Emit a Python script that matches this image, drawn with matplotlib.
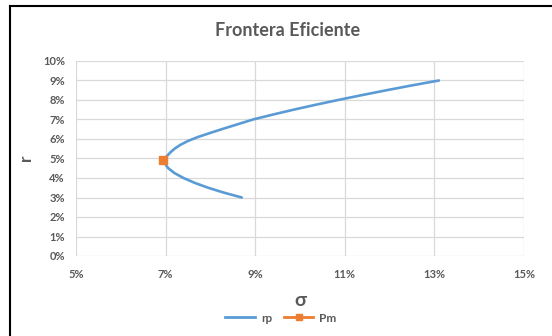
import matplotlib
matplotlib.use("Agg")
import matplotlib.pyplot as plt
from matplotlib.lines import Line2D
from matplotlib.ticker import FuncFormatter

# Efficient frontier points: portfolio risk (sigma) vs expected return (r)
rp_sigma = [0.0870, 0.0830, 0.0795, 0.0765, 0.0740, 0.0720, 0.0706, 0.0698,
            0.0696, 0.0702, 0.0710, 0.0720, 0.0733, 0.0750, 0.0772, 0.0798,
            0.0825, 0.0860, 0.0895, 0.0939, 0.0985, 0.1034, 0.1085, 0.1138,
            0.1193, 0.1250, 0.1310]
rp_r = [0.0300, 0.0325, 0.0350, 0.0375, 0.0400, 0.0425, 0.0450, 0.0475,
        0.0495, 0.0510, 0.0530, 0.0550, 0.0570, 0.0590, 0.0610, 0.0630,
        0.0650, 0.0675, 0.0700, 0.0725, 0.0750, 0.0775, 0.0800, 0.0825,
        0.0850, 0.0875, 0.0900]

# Minimum-variance portfolio
pm_sigma = [0.0695]
pm_r = [0.0492]

x_ticks = [0.05, 0.07, 0.09, 0.11, 0.13, 0.15]
y_ticks = [0.00, 0.01, 0.02, 0.03, 0.04, 0.05, 0.06, 0.07, 0.08, 0.09, 0.10]

BLUE = "#5b9bd5"
ORANGE = "#ed7d31"
GRAY = "#595959"
GRID = "#d9d9d9"
FONT = ["Lato", "DejaVu Sans"]

fig = plt.figure(figsize=(5.52, 3.36), dpi=100)
ax = fig.add_axes([76 / 552, 1 - 256 / 336, 448 / 552, 195 / 336])

ax.plot(rp_sigma, rp_r, color=BLUE, lw=1.9, solid_joinstyle="round",
        solid_capstyle="round", zorder=3)
ax.plot(pm_sigma, pm_r, color=ORANGE, marker="s", ms=5.5, lw=0, zorder=4)

ax.set_xlim(0.05, 0.15)
ax.set_ylim(0.0, 0.10)
ax.set_xticks(x_ticks)
ax.set_yticks(y_ticks)
pct = FuncFormatter(lambda v, _: f"{v * 100:.0f}%")
ax.xaxis.set_major_formatter(pct)
ax.yaxis.set_major_formatter(pct)

ax.grid(True, color=GRID, lw=0.9)
ax.set_axisbelow(True)
for s in ax.spines.values():
    s.set_visible(False)
ax.tick_params(length=0, labelsize=8, labelcolor=GRAY)
ax.tick_params(axis="x", pad=9)
ax.tick_params(axis="y", pad=8)
for lab in ax.get_xticklabels() + ax.get_yticklabels():
    lab.set_fontweight("bold")
    lab.set_family(FONT)

fig.text(288 / 552, 1 - 31 / 336, "Frontera Eficiente", ha="center", va="center",
         fontsize=13, fontweight="bold", color=GRAY, family=FONT)
fig.text(26 / 552, 1 - 158 / 336, "r", ha="center", va="center", rotation=90,
         fontsize=12.5, fontweight="bold", color=GRAY, family=FONT)
fig.text(300 / 552, 1 - 300 / 336, "σ", ha="center", va="center",
         fontsize=14, fontweight="bold", color=GRAY, family=FONT)

handles = [Line2D([], [], color=BLUE, lw=2.0),
           Line2D([], [], color=ORANGE, lw=2.0, marker="s", ms=5)]
leg = fig.legend(handles, ["rp", "Pm"], loc="center", bbox_to_anchor=(281 / 552, 1 - 318 / 336),
                 ncol=2, frameon=False, handlelength=2.5, handletextpad=0.5,
                 columnspacing=1.0, prop={"family": FONT, "size": 8.5, "weight": "bold"})
for t in leg.get_texts():
    t.set_color(GRAY)

# Outer frame edges
fig.add_artist(Line2D([10 / 552, 10 / 552], [0, 1 - 6 / 336], color="black", lw=1.5,
                      transform=fig.transFigure))
fig.add_artist(Line2D([10 / 552, 1], [1 - 6 / 336, 1 - 6 / 336], color="black", lw=1.5,
                      transform=fig.transFigure))

fig.savefig("out.png", dpi=100, facecolor="white")
